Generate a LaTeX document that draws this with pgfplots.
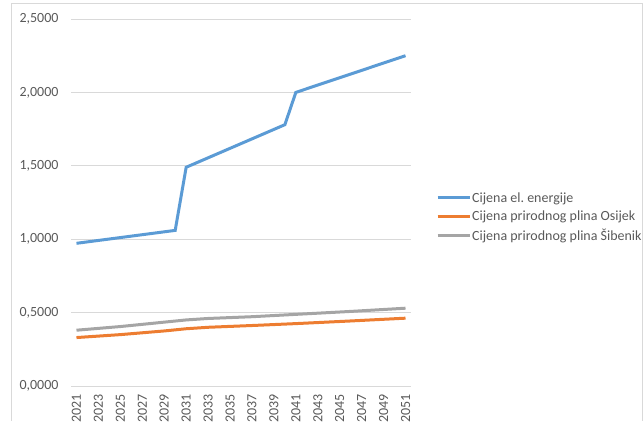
\documentclass[border=0pt]{standalone}
\usepackage{fontspec}
\setmainfont{Carlito}
\usepackage{pgfplots}
\pgfplotsset{compat=1.18}
\definecolor{cblue}{HTML}{5B9BD5}
\definecolor{corange}{HTML}{ED7D31}
\definecolor{cgray}{HTML}{A5A5A5}
\definecolor{cgrid}{HTML}{D9D9D9}
\definecolor{ctext}{HTML}{595959}
\frenchspacing
\begin{document}
\begin{tikzpicture}
\path[use as bounding box] (0,0) rectangle (644bp,431bp);
\draw[cgrid, line width=0.75bp] (11bp,10bp) -- (11bp,428bp) -- (642.5bp,428bp) -- (642.5bp,10bp);
\begin{axis}[
  at={(71bp,45bp)}, anchor=south west,
  width=340bp, height=367bp, scale only axis,
  xmin=2020.5, xmax=2051.5, ymin=0, ymax=2.5,
  xtick={2021,2023,...,2051},
  ytick={0,0.5,1,1.5,2,2.5},
  axis line style={draw=none},
  major tick style={draw=none},
  ymajorgrids, grid style={cgrid, line width=0.75bp},
  font=\fontsize{14bp}{16bp}\selectfont,
  tick label style={text=ctext},
  /pgf/number format/assume math mode=true,
  x tick label style={rotate=90, anchor=east, /pgf/number format/1000 sep={}},
  xticklabel shift=5bp,
  y tick label style={/pgf/number format/.cd, fixed, fixed zerofill, precision=4, use comma, 1000 sep={}},
  yticklabel shift=9bp,
  legend style={draw=none, fill=none, at={(1.0647,0.4605)}, anchor=west,
    font=\fontsize{14bp}{16bp}\selectfont, text=ctext, row sep=7bp,
    nodes={inner xsep=1bp, inner ysep=0pt}},
  legend cell align=left,
  legend image code/.code={\draw[#1] (0bp,0bp) -- (32bp,0bp);},
]
\addplot[cblue, line width=3bp] coordinates {
(2021,0.972) (2030,1.060) (2031,1.490) (2040,1.780) (2041,2.000) (2051,2.250)};
\addplot[corange, line width=3bp] coordinates {
(2021,0.330) (2025,0.350) (2029,0.375) (2031,0.390) (2033,0.400) (2037,0.412) (2041,0.425) (2046,0.443) (2051,0.462)};
\addplot[cgray, line width=3bp] coordinates {
(2021,0.380) (2025,0.405) (2029,0.435) (2031,0.450) (2033,0.460) (2037,0.472) (2041,0.488) (2046,0.508) (2051,0.530)};
\legend{Cijena el. energije, Cijena prirodnog plina Osijek, Cijena prirodnog plina Šibenik}
\end{axis}
\end{tikzpicture}
\end{document}
